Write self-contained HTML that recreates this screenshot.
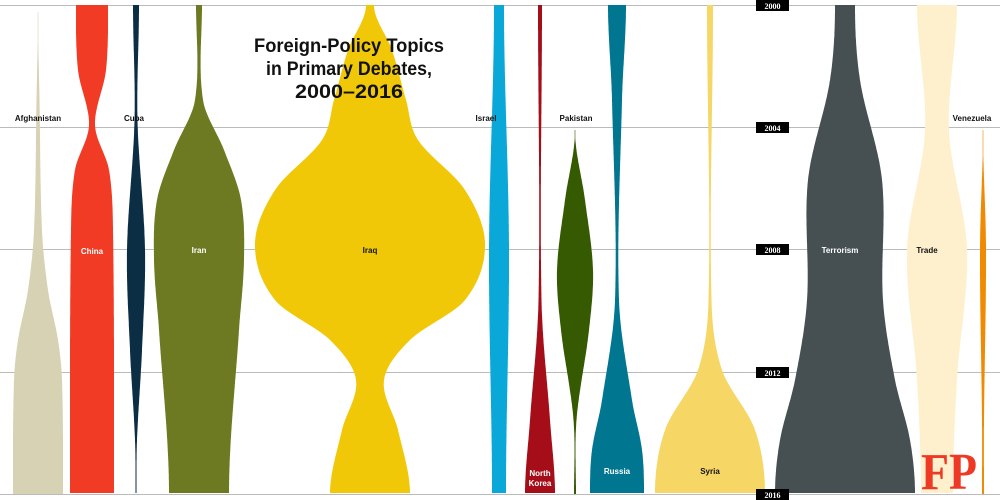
<!DOCTYPE html>
<html><head><meta charset="utf-8"><style>
body{margin:0;background:#fff}
svg{display:block}
.s{font-family:"Liberation Sans",sans-serif;font-weight:bold}
.y{font-family:"Liberation Serif",serif;font-weight:bold}
</style></head><body>
<svg id="s" width="1000" height="500" viewBox="0 0 1000 500">
<g stroke="#bbb" stroke-width="1">
<line x1="0" y1="5.5" x2="1000" y2="5.5"/><line x1="0" y1="127.5" x2="1000" y2="127.5"/>
<line x1="0" y1="249.5" x2="1000" y2="249.5"/><line x1="0" y1="372.5" x2="1000" y2="372.5"/>
<line x1="0" y1="494.5" x2="1000" y2="494.5"/>
</g>
<g id="shapes"></g>
<g class="s" font-size="19" text-anchor="middle" fill="#111">
<text x="349" y="52" textLength="190" lengthAdjust="spacingAndGlyphs">Foreign-Policy Topics</text>
<text x="349" y="75" textLength="166" lengthAdjust="spacingAndGlyphs">in Primary Debates,</text>
<text x="349" y="98" textLength="108" lengthAdjust="spacingAndGlyphs">2000–2016</text>
</g>
<g class="s" font-size="8" fill="#111" text-anchor="middle">
<text x="38" y="121">Afghanistan</text><text x="134" y="121">Cuba</text>
<text x="486" y="121">Israel</text><text x="576" y="121">Pakistan</text>
<text x="972" y="121">Venezuela</text>
<text x="710" y="474">Syria</text>
</g>
<g class="s" font-size="8" fill="#fff" text-anchor="middle">
<text x="92" y="254">China</text><text x="199" y="253">Iran</text>
<text x="370" y="253" fill="#111">Iraq</text><text x="840" y="253">Terrorism</text>
<text x="927" y="253" fill="#111">Trade</text><text x="617" y="474">Russia</text>
<text x="540" y="476">North</text><text x="540" y="486">Korea</text>
</g>
<g class="y" font-size="8" text-anchor="middle" fill="#fff">
<rect x="756" y="0" width="33" height="11" fill="#000"/><text x="772.5" y="9">2000</text>
<rect x="756" y="122" width="33" height="11" fill="#000"/><text x="772.5" y="131">2004</text>
<rect x="756" y="244" width="33" height="11" fill="#000"/><text x="772.5" y="253">2008</text>
<rect x="756" y="367" width="33" height="11" fill="#000"/><text x="772.5" y="376">2012</text>
<rect x="756" y="489" width="33" height="11" fill="#000"/><text x="772.5" y="498">2016</text>
</g>
<text class="y" x="921" y="489" font-size="52" fill="#ee3a24" textLength="56" lengthAdjust="spacingAndGlyphs">FP</text>
</svg>
<script>
var S=[
["#d7d2b3",38,[[12,0],[100,1.5],[230,4],[290,10],[340,20],[380,24],[494,25]]],
["#f23b25",92,[[5,16],[70,14],[125,3],[170,17],[230,21],[494,22]]],
["#0b2e45",136,[[5,3],[120,1.5],[250,9],[350,6],[440,1],[494,0.5]]],
["#6d7a21",199,[[5,3],[100,4],[150,25],[200,42],[260,45],[330,40],[494,30]]],
["#f0c808",370,[[5,4],[50,22],[100,36],[140,48],[190,95],[245,115],[300,95],[340,40],[380,14],[430,28],[494,40]]],
["#0aa8d8",499,[[5,5],[250,10],[494,7]]],
["#a50e18",540,[[5,2],[300,1.5],[420,10],[494,15]]],
["#365a02",575,[[130,0],[200,10],[270,18],[330,14],[420,1.5],[494,1]]],
["#007691",617,[[5,9],[100,5],[300,2],[400,15],[450,25],[494,27]]],
["#f6d664",710,[[5,3],[300,1.5],[370,12],[430,45],[494,55]]],
["#464f51",845,[[5,10],[80,15],[180,37],[300,38],[380,50],[440,65],[494,70]]],
["#fef0cd",937,[[5,20],[130,12],[250,30],[380,20],[494,16]]],
["#f18a00",983,[[130,0],[250,3],[420,1],[494,1]]]
];
function hw(k,y){var n=k.length;for(var i=0;i<n-1;i++){var a=k[i],b=k[i+1];if(y>=a[0]&&y<=b[0]){
var h=b[0]-a[0],t=(y-a[0])/h;
var m0=i>0?(b[1]-k[i-1][1])/(b[0]-k[i-1][0]):0;
var m1=i<n-2?(k[i+2][1]-a[1])/(k[i+2][0]-a[0]):0;
var t2=t*t,t3=t2*t;
var v=(2*t3-3*t2+1)*a[1]+(t3-2*t2+t)*h*m0+(-2*t3+3*t2)*b[1]+(t3-t2)*h*m1;
return Math.max(v,0.3);}}return 0;}
var g=document.getElementById("shapes"),h="";
S.forEach(function(s){var k=s[2],y0=k[0][0],y1=k[k.length-1][0],L=[],R=[];
for(var y=y0;y<=y1;y+=2){var w=hw(k,y);L.push((s[1]-w).toFixed(1)+","+y);R.unshift((s[1]+w).toFixed(1)+","+y);}
h+='<polygon fill="'+s[0]+'" points="'+L.concat(R).join(" ")+'"/>';});
g.innerHTML=h;
</script>
</body></html>
